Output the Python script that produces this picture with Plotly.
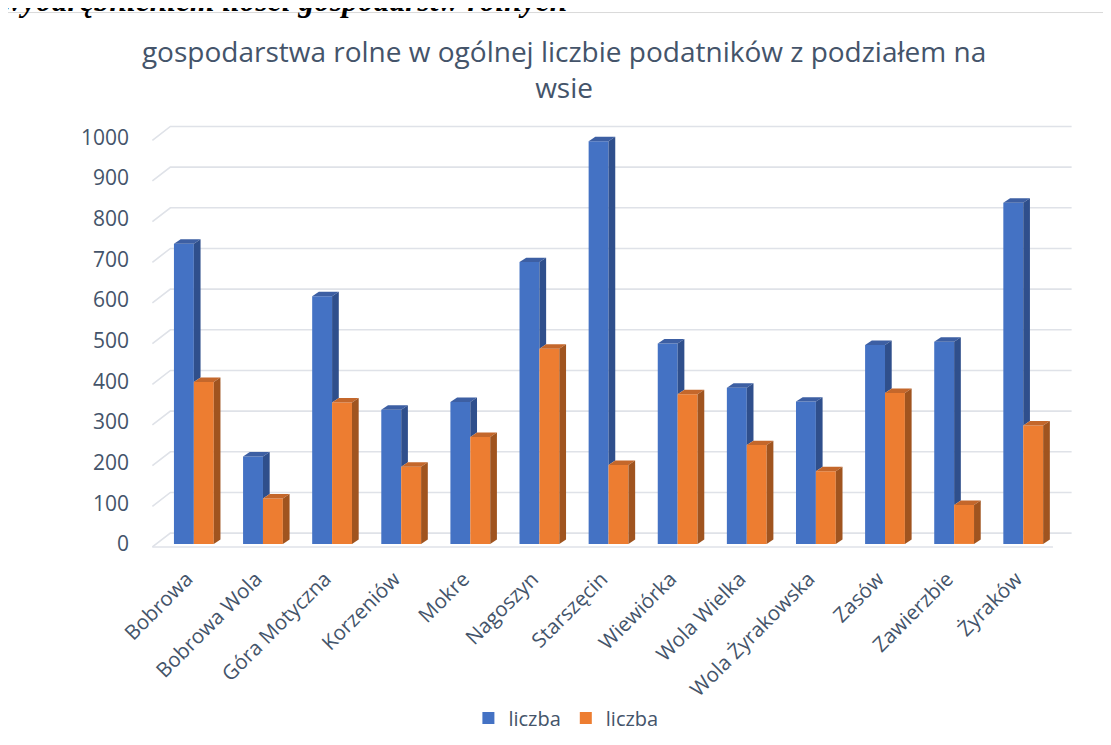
import plotly.graph_objects as go

categories = ["Bobrowa", "Bobrowa Wola", "Góra Motyczna", "Korzeniów", "Mokre", "Nagoszyn",
              "Starszęcin", "Wiewiórka", "Wola Wielka", "Wola Żyrakowska", "Zasów",
              "Zawierzbie", "Żyraków"]
series1 = [738, 215, 609, 330, 349, 693, 990, 493, 384, 350, 489, 497, 839]
series2 = [398, 112, 348, 190, 263, 480, 194, 368, 243, 179, 371, 96, 291]
series_names = ["liczba", "liczba"]
y_ticks = [0, 100, 200, 300, 400, 500, 600, 700, 800, 900, 1000]

title_text = "gospodarstwa rolne w ogólnej liczbie podatników z podziałem na<br>wsie"
doc_text = "wyodrębnieniem ilości gospodarstw rolnych"

TXT = "#44546a"
FONT = "Open Sans"
BLUE, BLUE_SIDE, BLUE_TOP = "#4472c4", "#2f4f8c", "#3d5fa3"
ORNG, ORNG_SIDE, ORNG_TOP = "#ed7d31", "#a0541f", "#c4672b"
GRID = "#dfe2e8"

idx = list(range(len(categories)))
W = 0.288      # bar front width (category units)
DDX, DDY = 0.097, 11    # bar depth offset
XL, XR = -0.6, 12.7
WDX, WDY, WOFF = 0.26, 34, -7.4

fig = go.Figure()
fig.add_trace(go.Bar(x=idx, y=series1, offset=-W, width=W, name=series_names[0],
                     marker=dict(color=BLUE, line=dict(width=0))))
fig.add_trace(go.Bar(x=idx, y=series2, offset=0, width=W, name=series_names[1],
                     marker=dict(color=ORNG, line=dict(width=0))))

shapes = []
# back wall gridlines with perspective slant
for v in y_ticks:
    y0 = v + WOFF
    shapes.append(dict(type="path", xref="x", yref="y", layer="below",
                       path=f"M{XL},{y0} L{XL + WDX},{y0 + WDY} L{XR},{y0 + WDY}",
                       line=dict(color=GRID, width=1.6)))
# floor front edge
shapes.append(dict(type="line", xref="x", yref="y", layer="below",
                   x0=XL, x1=12.43, y0=WOFF, y1=WOFF, line=dict(color=GRID, width=1.6)))

# 3D faces of bars
for i, (b, o) in enumerate(zip(series1, series2)):
    xb0, xb1 = i - W, i
    xo0, xo1 = i, i + W
    shapes.append(dict(type="path", xref="x", yref="y", layer="above", line=dict(width=0),
                       fillcolor=BLUE_TOP,
                       path=f"M{xb0},{b} L{xb1},{b} L{xb1 + DDX},{b + DDY} L{xb0 + DDX},{b + DDY} Z"))
    shapes.append(dict(type="path", xref="x", yref="y", layer="above", line=dict(width=0),
                       fillcolor=BLUE_SIDE,
                       path=f"M{xb1},{o} L{xb1},{b} L{xb1 + DDX},{b + DDY} L{xb1 + DDX},{o + DDY} Z"))
    shapes.append(dict(type="path", xref="x", yref="y", layer="above", line=dict(width=0),
                       fillcolor=ORNG_TOP,
                       path=f"M{xo0},{o} L{xo1},{o} L{xo1 + DDX},{o + DDY} L{xo0 + DDX},{o + DDY} Z"))
    shapes.append(dict(type="path", xref="x", yref="y", layer="above", line=dict(width=0),
                       fillcolor=ORNG_SIDE,
                       path=f"M{xo1},0 L{xo1},{o} L{xo1 + DDX},{o + DDY} L{xo1 + DDX},{DDY} Z"))

# chart container border
shapes.append(dict(type="rect", xref="paper", yref="paper", layer="below",
                   x0=-0.158, x1=1.2, y0=-0.6, y1=1.254,
                   line=dict(color="#d9d9d9", width=1), fillcolor="rgba(0,0,0,0)"))

fig.update_layout(
    width=1111, height=745,
    margin=dict(l=142.7, r=45.7, t=112.7, b=204.9),
    paper_bgcolor="white", plot_bgcolor="rgba(0,0,0,0)",
    barmode="overlay",
    shapes=shapes,
    font=dict(family=FONT, color=TXT),
    title=dict(text=title_text, x=0.448, xref="paper", xanchor="center",
               y=0.928, yref="container", yanchor="top",
               font=dict(family=FONT, size=28, color=TXT)),
    xaxis=dict(range=[-0.62, 12.72], tickmode="array", tickvals=idx, ticktext=categories,
               tickangle=-45, showgrid=False, zeroline=False, showline=False,
               ticks="", ticklabelstandoff=14, ticklabelshift=-7,
               tickfont=dict(size=20.5, color=TXT)),
    yaxis=dict(range=[-10, 1040], tickmode="array", tickvals=y_ticks,
               showgrid=False, zeroline=False, showline=False, ticks="",
               ticklabelstandoff=21, tickfont=dict(size=21, color=TXT)),
    legend=dict(orientation="h", x=0.45, xanchor="center", y=-0.398, yanchor="middle",
                font=dict(size=20, color=TXT), itemwidth=30),
    showlegend=True,
    annotations=[dict(text=f"<b><i>{doc_text}</i></b>", xref="paper", yref="paper",
                      x=-0.165, xanchor="left", y=1.2357, yanchor="bottom", showarrow=False,
                      font=dict(family="Liberation Serif", size=31.5, color="black"))],
)

fig.write_html("out.html")
